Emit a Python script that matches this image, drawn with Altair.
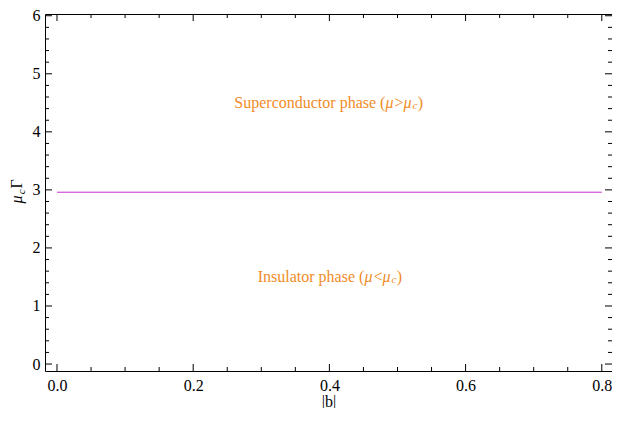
import altair as alt
import pandas as pd

# ---- data -------------------------------------------------------------
x_major = [0.0, 0.2, 0.4, 0.6, 0.8]
x_minor = [0.05, 0.10, 0.15, 0.25, 0.30, 0.35, 0.45, 0.50, 0.55, 0.65, 0.70, 0.75]
y_major = [0, 1, 2, 3, 4, 5, 6]
y_minor = [0.2, 0.4, 0.6, 0.8, 1.2, 1.4, 1.6, 1.8, 2.2, 2.4, 2.6, 2.8,
           3.2, 3.4, 3.6, 3.8, 4.2, 4.4, 4.6, 4.8, 5.2, 5.4, 5.6, 5.8]

b_start = [0.0]
b_end = [0.8]
mu_c_gamma = [2.96]

phase_names = ["Superconductor phase (", "Insulator phase ("]
phase_relations = [">", "<"]
phase_x = [0.4, 0.4]
phase_y = [4.5, 1.5]

x_domain = [-0.0176, 0.815]
y_domain = [-0.12, 6.03]

# ---- style ------------------------------------------------------------
W, H = 567, 357
FONT = "Liberation Serif"
FS = 16
ORANGE = "#f08c28"
LINE = "#c82ed2"
phase_anchor_dx = [56.0, 35.0]  # pixel offset of end of "(" from label centre

xs = alt.Scale(domain=x_domain, nice=False, zero=False)
ys = alt.Scale(domain=y_domain, nice=False, zero=False)
common_axis = dict(ticks=False, domain=False, grid=False, labelFlush=False,
                   labelFont=FONT, labelFontSize=FS, labelColor="black",
                   titleFont=FONT, titleFontSize=FS, titleFontWeight="normal",
                   titleColor="black")
xaxis = alt.Axis(values=x_major, format=".1f", labelPadding=6, titlePadding=0,
                 **common_axis)
yaxis = alt.Axis(values=y_major, format="d", labelPadding=5, **common_axis)


def X(field="x"):
    return alt.X(f"{field}:Q", scale=xs, axis=xaxis, title="|b|")


def Y(field="y"):
    return alt.Y(f"{field}:Q", scale=ys, axis=yaxis, title=None)


layers = []

# transition line
line_df = pd.DataFrame({"x": b_start, "x2": b_end, "y": mu_c_gamma})
layers.append(alt.Chart(line_df).mark_rule(color=LINE, strokeWidth=1).encode(
    x=X(), x2="x2:Q", y=Y()))

# inward frame ticks
for vals, L in [(x_major, 7), (x_minor, 4)]:
    df = pd.DataFrame({"x": vals})
    layers.append(alt.Chart(df).mark_rule(color="black", strokeWidth=1).encode(
        x=X(), y=alt.value(H), y2=alt.value(H - L)))
    layers.append(alt.Chart(df).mark_rule(color="black", strokeWidth=1).encode(
        x=X(), y=alt.value(0), y2=alt.value(L)))
for vals, L in [(y_major, 7), (y_minor, 4)]:
    df = pd.DataFrame({"y": vals})
    layers.append(alt.Chart(df).mark_rule(color="black", strokeWidth=1).encode(
        y=Y(), x=alt.value(0), x2=alt.value(L)))
    layers.append(alt.Chart(df).mark_rule(color="black", strokeWidth=1).encode(
        y=Y(), x=alt.value(W), x2=alt.value(W - L)))

# phase annotations, built from pieces (to allow italics / subscript)
for name, rel, px, py, adx in zip(phase_names, phase_relations, phase_x,
                                  phase_y, phase_anchor_dx):
    df = pd.DataFrame({"x": [px], "y": [py]})
    pieces = [
        (name, "normal", FS, adx, 0, "right"),
        ("\u03bc", "italic", FS, adx, 0, "left"),
        (rel, "normal", FS, adx + 9.2, 0, "left"),
        ("\u03bc", "italic", FS, adx + 18.2, 0, "left"),
        ("c", "italic", 11, adx + 27.2, 3, "left"),
        (")", "normal", FS, adx + 32.3, 0, "left"),
    ]
    for txt, style, size, dx, dy, align in pieces:
        layers.append(alt.Chart(df).mark_text(
            text=txt, font=FONT, fontSize=size, fontStyle=style, color=ORANGE,
            align=align, baseline="middle", dx=dx, dy=dy).encode(x=X(), y=Y()))

# y-axis title  mu_c Gamma  (rotated)
one = pd.DataFrame({"k": [0]})
for txt, style, size, dx, dy in [("\u03bc", "italic", FS, 0, 0),
                                 ("c", "italic", 11, 9.2, 3),
                                 ("\u0393", "normal", FS, 15.0, 0)]:
    layers.append(alt.Chart(one).mark_text(
        text=txt, font=FONT, fontSize=size, fontStyle=style, color="black",
        align="left", baseline="alphabetic", angle=270, dx=dx, dy=dy).encode(
        x=alt.value(-23), y=alt.value(189.5)))

chart = alt.layer(*layers).properties(
    width=W, height=H,
    autosize=alt.AutoSizeParams(type="none"),
    padding={"left": 37, "top": 6, "right": 0, "bottom": 37},
).configure_view(stroke="black", strokeWidth=1)

chart.save("out.html", embed_options={"renderer": "svg", "actions": False})
